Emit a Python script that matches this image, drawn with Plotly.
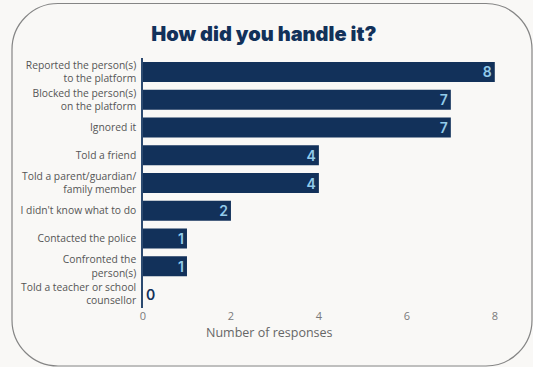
import plotly.graph_objects as go

# Responses to "How did you handle it?"
categories = [
    "Reported the person(s)<br>to the platform",
    "Blocked the person(s)<br>on the platform",
    "Ignored it",
    "Told a friend",
    "Told a parent/guardian/<br>family member",
    "I didn't know what to do",
    "Contacted the police",
    "Confronted the<br>person(s)",
    "Told a teacher or school<br>counsellor",
]
responses = [8, 7, 7, 4, 4, 2, 1, 1, 0]
x_ticks = [0, 2, 4, 6, 8]

NAVY = "#12315a"
LABEL_BLUE = "#92cbea"
BG = "#f9f8f6"

W, H = 533, 367
L, R, T, B = 143, 36, 58, 59

text_pos = ["inside" if v > 0 else "outside" for v in responses]
text_col = [LABEL_BLUE if v > 0 else NAVY for v in responses]

fig = go.Figure(
    go.Bar(
        x=responses,
        y=categories,
        orientation="h",
        marker=dict(color=NAVY, line=dict(width=0)),
        text=[str(v) for v in responses],
        textposition=text_pos,
        textangle=0,
        insidetextanchor="end",
        textfont=dict(family="Inter", size=14, color=text_col, weight=600),
        cliponaxis=False,
        hoverinfo="skip",
    )
)

# Rounded card outline drawn in pixel offsets from the plot's bottom-left corner
x0, x1 = 12 - L, 532 - L
yt, yb = (H - B) - 3.5, (H - B) - 366
r = 46
k = r * 0.5523
card = (
    f"M {x0 + r},{yt} L {x1 - r},{yt} "
    f"C {x1 - r + k},{yt} {x1},{yt - r + k} {x1},{yt - r} "
    f"L {x1},{yb + r} "
    f"C {x1},{yb + r - k} {x1 - r + k},{yb} {x1 - r},{yb} "
    f"L {x0 + r},{yb} "
    f"C {x0 + r - k},{yb} {x0},{yb + r - k} {x0},{yb + r} "
    f"L {x0},{yt - r} "
    f"C {x0},{yt - r + k} {x0 + r - k},{yt} {x0 + r},{yt} Z"
)
fig.add_shape(
    type="path",
    path=card,
    xref="paper", yref="paper",
    xsizemode="pixel", ysizemode="pixel",
    xanchor=0, yanchor=0,
    line=dict(color="#858585", width=1.2),
    fillcolor="rgba(0,0,0,0)",
    layer="below",
)

fig.update_layout(
    width=W, height=H,
    margin=dict(l=L, r=R, t=T, b=B),
    paper_bgcolor=BG,
    plot_bgcolor=BG,
    showlegend=False,
    bargap=0.28,
    uniformtext=dict(minsize=14, mode="show"),
    title=dict(
        text="How did you handle it?",
        x=0.495, xanchor="center",
        y=1 - 34 / H, yanchor="middle",
        font=dict(family="Inter", size=20, color=NAVY, weight=900),
    ),
    font=dict(family="Open Sans"),
)

fig.update_xaxes(
    range=[0, 8.05],
    tickvals=x_ticks,
    showgrid=False,
    zeroline=False,
    showline=False,
    ticks="",
    tickfont=dict(family="Open Sans", size=11, color="#7a7a7a"),
)
fig.update_yaxes(
    autorange="reversed",
    showgrid=False,
    zeroline=False,
    showline=True,
    linecolor="#2c4a70",
    linewidth=1.5,
    ticks="",
    ticklabelstandoff=3,
    tickfont=dict(family="Open Sans", size=10.3, color="#555555"),
)

# Axis title placed under the plot, centred on the card
fig.add_annotation(
    text="Number of responses",
    xref="paper", yref="paper",
    x=(269.5 - L) / (W - L - R), y=-(332 - (H - B)) / (H - T - B),
    xanchor="center", yanchor="middle",
    showarrow=False,
    font=dict(family="Open Sans", size=12.5, color="#666666"),
)

fig.write_html("out.html")
